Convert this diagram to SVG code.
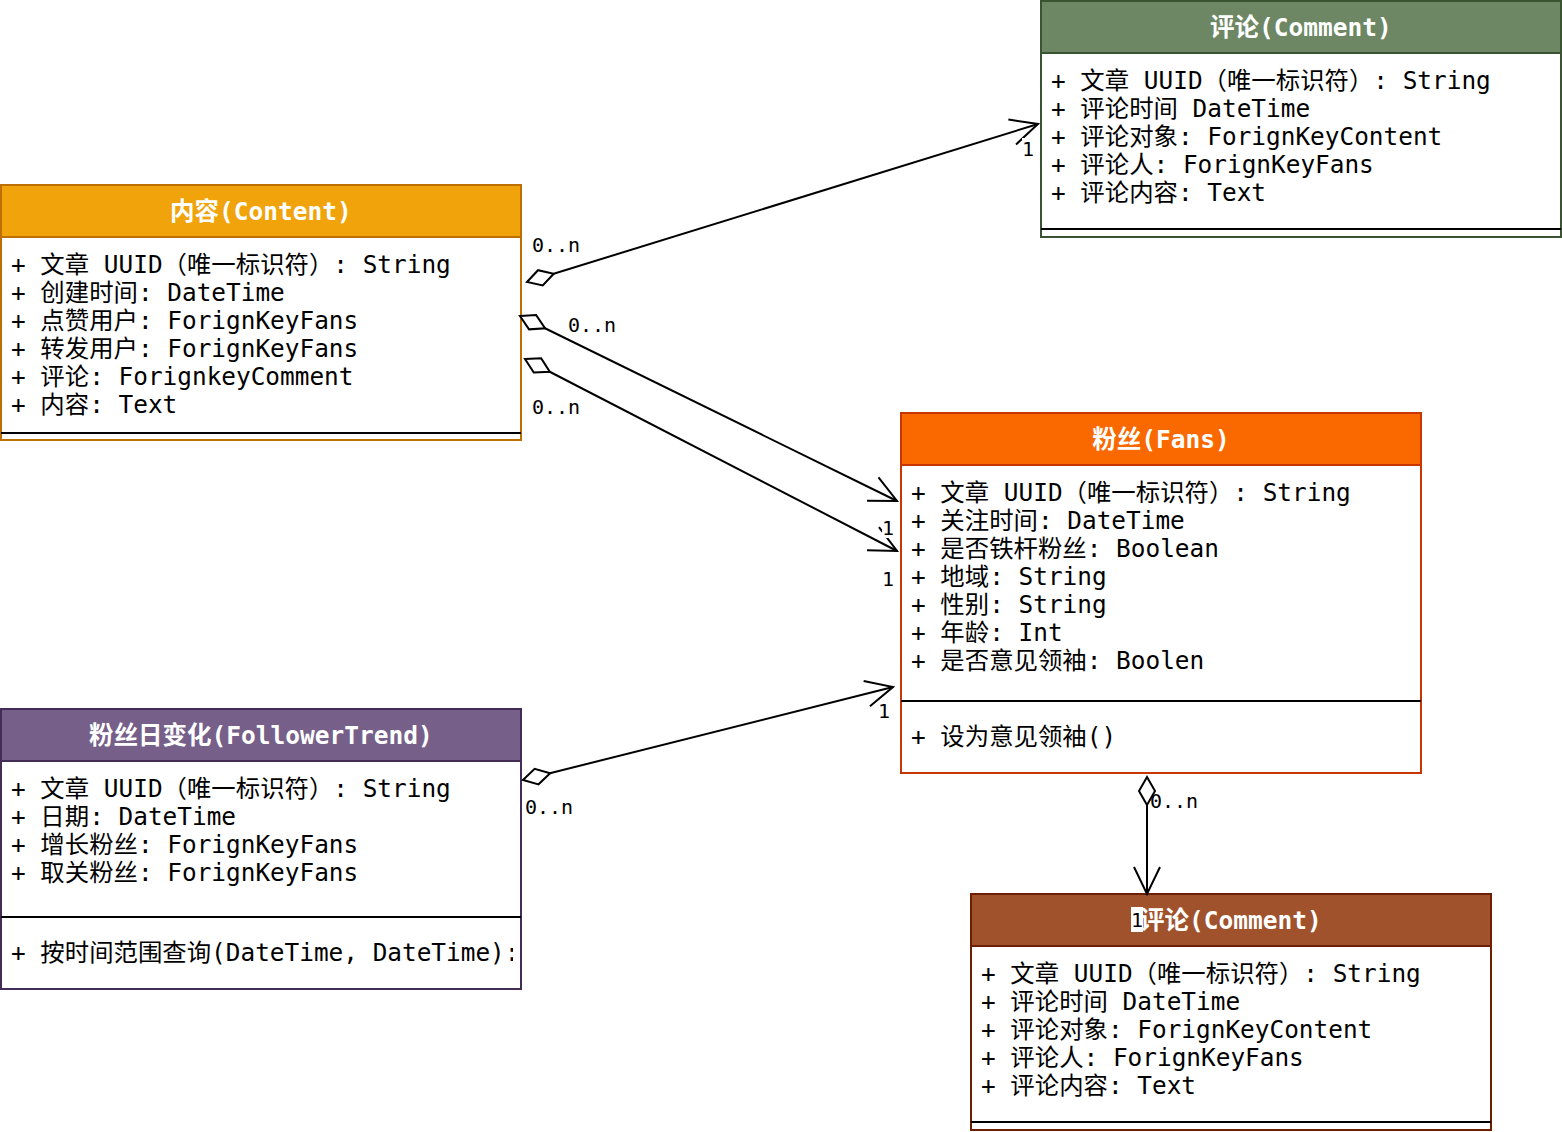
<svg xmlns="http://www.w3.org/2000/svg" width="1562" height="1132" viewBox="0 0 1562 1132">
  <style>
    text { font-family: "DejaVu Sans Mono", "Noto Sans CJK SC", monospace; }
    .title { font-size: 24.5px; font-weight: bold; fill: #ffffff; text-anchor: middle; }
    .attr { font-size: 24.4px; fill: #000000; }
    .lbl { font-size: 20px; fill: #000000; }
    .body { fill: #ffffff; stroke-width: 2; }
    .sep { stroke: #000000; stroke-width: 2; }
    .edge { fill: none; stroke: #000000; stroke-width: 2; }
    .lblbg { fill: #ffffff; }
  </style>
  <defs>
    <!-- hollow aggregation diamond at the owning end -->
    <marker id="diamond" markerUnits="userSpaceOnUse" viewBox="-2 -12 32 24" markerWidth="32" markerHeight="24" refX="0" refY="0" orient="auto" overflow="visible">
      <path d="M0,0 L14,-8 L28,0 L14,8 Z" fill="#ffffff" stroke="#000000" stroke-width="2"/>
    </marker>
    <!-- open arrowhead at the target end -->
    <marker id="open" markerUnits="userSpaceOnUse" viewBox="-32 -16 34 32" markerWidth="34" markerHeight="32" refX="0" refY="0" orient="auto" overflow="visible">
      <path d="M-27,-13 L0,0 L-27,13" fill="none" stroke="#000000" stroke-width="2"/>
    </marker>
    <!-- method text is clipped to the class box -->
    <clipPath id="ftClip">
      <rect x="2" y="918" width="511" height="70"/>
    </clipPath>
  </defs>

  <!-- Comment (top right) -->
  <g id="comment-top">
    <rect class="body" x="1041" y="1" width="520" height="236" stroke="#3A5431"/>
    <rect x="1041" y="1" width="520" height="52" fill="#6d8764" stroke="#3A5431" stroke-width="2"/>
    <text class="title" x="1301" y="36">评论(Comment)</text>
    <text class="attr" x="1051" y="89">+ 文章 UUID（唯一标识符）: String</text>
    <text class="attr" x="1051" y="117">+ 评论时间 DateTime</text>
    <text class="attr" x="1051" y="145">+ 评论对象: ForignKeyContent</text>
    <text class="attr" x="1051" y="173">+ 评论人: ForignKeyFans</text>
    <text class="attr" x="1051" y="201">+ 评论内容: Text</text>
    <line class="sep" x1="1041" y1="229" x2="1561" y2="229"/>
  </g>

  <!-- Content -->
  <g id="content">
    <rect class="body" x="1" y="185" width="520" height="255" stroke="#BD7000"/>
    <rect x="1" y="185" width="520" height="52" fill="#f0a30a" stroke="#BD7000" stroke-width="2"/>
    <text class="title" x="261" y="220">内容(Content)</text>
    <text class="attr" x="11" y="273">+ 文章 UUID（唯一标识符）: String</text>
    <text class="attr" x="11" y="301">+ 创建时间: DateTime</text>
    <text class="attr" x="11" y="329">+ 点赞用户: ForignKeyFans</text>
    <text class="attr" x="11" y="357">+ 转发用户: ForignKeyFans</text>
    <text class="attr" x="11" y="385">+ 评论: ForignkeyComment</text>
    <text class="attr" x="11" y="413">+ 内容: Text</text>
    <line class="sep" x1="1" y1="433" x2="521" y2="433"/>
  </g>

  <!-- Fans -->
  <g id="fans">
    <rect class="body" x="901" y="413" width="520" height="360" stroke="#C73500"/>
    <rect x="901" y="413" width="520" height="52" fill="#fa6800" stroke="#C73500" stroke-width="2"/>
    <text class="title" x="1161" y="448">粉丝(Fans)</text>
    <text class="attr" x="911" y="501">+ 文章 UUID（唯一标识符）: String</text>
    <text class="attr" x="911" y="529">+ 关注时间: DateTime</text>
    <text class="attr" x="911" y="557">+ 是否铁杆粉丝: Boolean</text>
    <text class="attr" x="911" y="585">+ 地域: String</text>
    <text class="attr" x="911" y="613">+ 性别: String</text>
    <text class="attr" x="911" y="641">+ 年龄: Int</text>
    <text class="attr" x="911" y="669">+ 是否意见领袖: Boolen</text>
    <line class="sep" x1="901" y1="701" x2="1421" y2="701"/>
    <text class="attr" x="911" y="745">+ 设为意见领袖()</text>
  </g>

  <!-- FollowerTrend -->
  <g id="follower-trend">
    <rect class="body" x="1" y="709" width="520" height="280" stroke="#432D57"/>
    <rect x="1" y="709" width="520" height="52" fill="#76608a" stroke="#432D57" stroke-width="2"/>
    <text class="title" x="261" y="744">粉丝日变化(FollowerTrend)</text>
    <text class="attr" x="11" y="797">+ 文章 UUID（唯一标识符）: String</text>
    <text class="attr" x="11" y="825">+ 日期: DateTime</text>
    <text class="attr" x="11" y="853">+ 增长粉丝: ForignKeyFans</text>
    <text class="attr" x="11" y="881">+ 取关粉丝: ForignKeyFans</text>
    <line class="sep" x1="1" y1="917" x2="521" y2="917"/>
    <text class="attr" x="11" y="961" clip-path="url(#ftClip)">+ 按时间范围查询(DateTime, DateTime):</text>
  </g>

  <!-- Comment (bottom) -->
  <g id="comment-bottom">
    <rect class="body" x="971" y="894" width="520" height="236" stroke="#6D1F00"/>
    <rect x="971" y="894" width="520" height="52" fill="#a0522d" stroke="#6D1F00" stroke-width="2"/>
    <text class="title" x="1231" y="929">评论(Comment)</text>
    <text class="attr" x="981" y="982">+ 文章 UUID（唯一标识符）: String</text>
    <text class="attr" x="981" y="1010">+ 评论时间 DateTime</text>
    <text class="attr" x="981" y="1038">+ 评论对象: ForignKeyContent</text>
    <text class="attr" x="981" y="1066">+ 评论人: ForignKeyFans</text>
    <text class="attr" x="981" y="1094">+ 评论内容: Text</text>
    <line class="sep" x1="971" y1="1122" x2="1491" y2="1122"/>
  </g>

  <!-- Associations -->
  <g id="connectors">
    <path class="edge" d="M527,282 L1038,124" marker-start="url(#diamond)" marker-end="url(#open)"/>
    <path class="edge" d="M520,316 L897,501" marker-start="url(#diamond)" marker-end="url(#open)"/>
    <path class="edge" d="M525,359 L897,551" marker-start="url(#diamond)" marker-end="url(#open)"/>
    <path class="edge" d="M523,780 L893,687" marker-start="url(#diamond)" marker-end="url(#open)"/>
    <path class="edge" d="M1147,777 L1147,894" marker-start="url(#diamond)" marker-end="url(#open)"/>

    <!-- multiplicities -->
    <text class="lbl" x="532" y="252">0..n</text>
    <rect class="lblbg" x="1022" y="138" width="12" height="20"/>
    <text class="lbl" x="1022" y="156">1</text>

    <text class="lbl" x="568" y="332">0..n</text>
    <text class="lbl" x="532" y="414">0..n</text>
    <rect class="lblbg" x="882" y="518" width="12" height="20"/>
    <text class="lbl" x="882" y="535">1</text>
    <text class="lbl" x="882" y="586">1</text>

    <text class="lbl" x="525" y="814">0..n</text>
    <rect class="lblbg" x="878" y="702" width="12" height="20"/>
    <text class="lbl" x="878" y="718">1</text>

    <text class="lbl" x="1150" y="808">0..n</text>
    <rect class="lblbg" x="1131" y="907" width="12" height="25"/>
    <text class="lbl" x="1131" y="927">1</text>
  </g>
</svg>
